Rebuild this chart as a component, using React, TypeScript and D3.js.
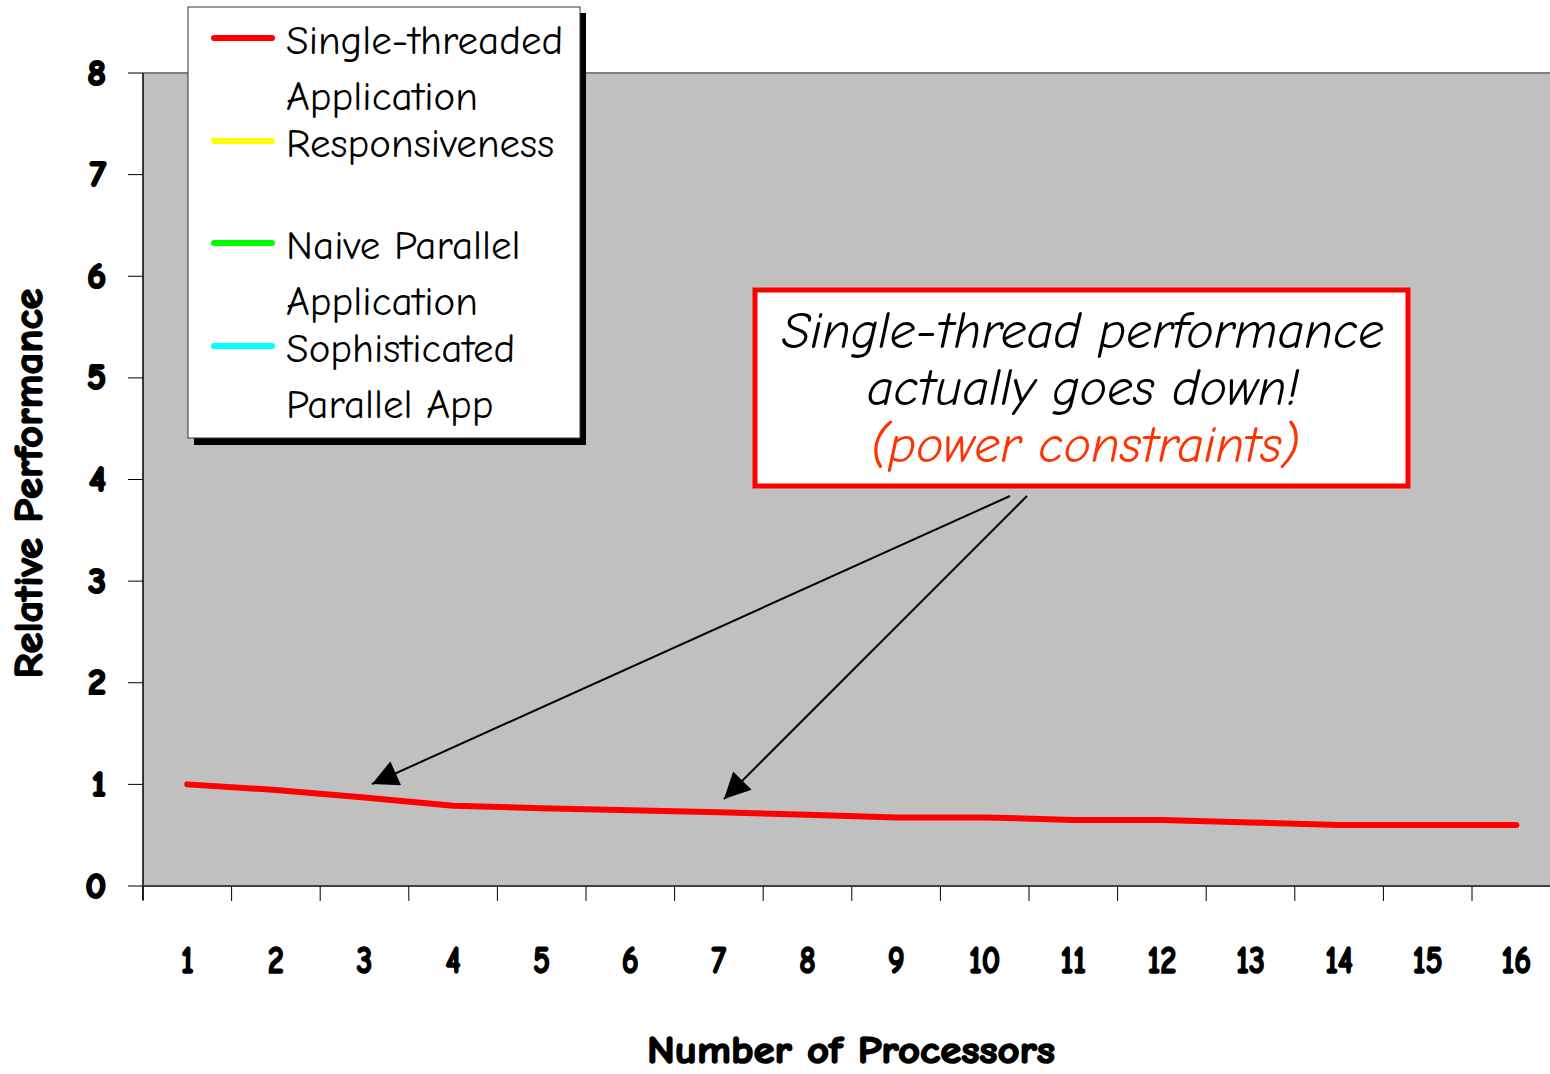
import { useMemo } from 'react'
import * as d3 from 'd3'

const processors = ['1', '2', '3', '4', '5', '6', '7', '8', '9', '10', '11', '12', '13', '14', '15', '16']
const singleThreaded = [1.0, 0.945, 0.87, 0.79, 0.765, 0.745, 0.725, 0.7, 0.675, 0.675, 0.65, 0.65, 0.625, 0.6, 0.6, 0.6]
const yTicks = [0, 1, 2, 3, 4, 5, 6, 7, 8]

const legendItems = [
  { lines: ['Single-threaded', 'Application'], color: '#ff0000' },
  { lines: ['Responsiveness'], color: '#ffff00' },
  { lines: ['Naive Parallel', 'Application'], color: '#00ff00' },
  { lines: ['Sophisticated', 'Parallel App'], color: '#00ffff' },
]

const calloutLines = ['Single-thread performance', 'actually goes down!']
const calloutNote = '(power constraints)'

const font = "'Comic Sans MS', 'Comic Neue', 'Open Sans', sans-serif"

const App = () => {
  const width = 1550
  const height = 1074
  const left = 143
  const top = 73
  const bottom = 886
  const band = 88.6

  const x = useMemo(
    () => d3.scaleBand().domain(processors).range([left, left + band * processors.length]).padding(0),
    []
  )
  const y = useMemo(() => d3.scaleLinear().domain([0, 8]).range([bottom, top]), [])

  const line = d3
    .line<number>()
    .x((_, i) => (x(processors[i]) ?? 0) + x.bandwidth() / 2)
    .y((d) => y(d))

  const xEdges = [...processors.map((p) => x(p) ?? 0), x.range()[1]]

  // arrows from the callout down to the line
  const arrows = [
    { from: [1010, 496], to: [372, 784] },
    { from: [1027, 496], to: [724, 799] },
  ]

  const legendRows = [40, 143, 245, 348]

  // fake bold, the comic font has no bold face here
  const heavy = { stroke: '#000', strokeWidth: 1.6, paintOrder: 'stroke' as const }

  return (
    <svg width={width} height={height} style={{ position: 'absolute', left: 0, top: 0, background: '#fff' }}>
      <defs>
        <marker id='head2' viewBox='0 0 10 10' refX='10' refY='5' markerWidth='30' markerHeight='26' orient='auto' markerUnits='userSpaceOnUse'>
          <path d='M0,0 L10,5 L0,10 z' fill='#000' />
        </marker>
      </defs>

      {/* plot area */}
      <rect x={left} y={top} width={width - left + 20} height={bottom - top} fill='#c0c0c0' />
      <line x1={left} x2={width} y1={top} y2={top} stroke='#808080' strokeWidth={2} />
      <line x1={left} x2={left} y1={top} y2={bottom + 14} stroke='#000' strokeWidth={1.5} />
      <line x1={left} x2={width} y1={bottom} y2={bottom} stroke='#404040' strokeWidth={2} />

      {/* y axis */}
      {yTicks.map((t) => (
        <g key={t}>
          <line x1={left - 15} x2={left} y1={y(t)} y2={y(t)} stroke='#000' strokeWidth={1} />
          <text
            x={106}
            y={y(t)}
            textAnchor='end'
            dominantBaseline='central'
            fontFamily={font}
            fontWeight='bold'
            fontSize={36}
            {...heavy}
            strokeWidth={2.2}
          >
            {t}
          </text>
        </g>
      ))}
      <text
        transform={`translate(28, ${(top + bottom) / 2 + 4}) rotate(-90)`}
        textAnchor='middle'
        dominantBaseline='central'
        fontFamily={font}
        fontWeight='bold'
        fontSize={41}
        {...heavy}
        textLength={390}
        lengthAdjust='spacingAndGlyphs'
      >
        Relative Performance
      </text>

      {/* x axis */}
      {xEdges.map((e, i) => (
        <line key={i} x1={e} x2={e} y1={bottom} y2={bottom + 15} stroke='#000' strokeWidth={1} />
      ))}
      {processors.map((p) => (
        <text
          key={p}
          x={(x(p) ?? 0) + x.bandwidth() / 2}
          y={961}
          textAnchor='middle'
          dominantBaseline='central'
          fontFamily={font}
          fontWeight='bold'
          fontSize={38}
          {...heavy}
          transform={`translate(${(x(p) ?? 0) + x.bandwidth() / 2}, 0) scale(0.85, 1) translate(${-((x(p) ?? 0) + x.bandwidth() / 2)}, 0)`}
        >
          {p}
        </text>
      ))}
      <text
        x={851}
        y={1050}
        textAnchor='middle'
        dominantBaseline='central'
        fontFamily={font}
        fontWeight='bold'
        fontSize={39}
        {...heavy}
        textLength={408}
        lengthAdjust='spacingAndGlyphs'
      >
        Number of Processors
      </text>

      {/* data */}
      <path d={line(singleThreaded) ?? ''} fill='none' stroke='#ff0000' strokeWidth={6} strokeLinecap='round' strokeLinejoin='round' />

      {/* legend */}
      <rect x={194} y={13} width={392} height={432} fill='#000' />
      <rect x={188} y={7} width={392} height={431} fill='#fff' stroke='#333' strokeWidth={1} />
      {legendItems.map((item, i) => (
        <g key={i}>
          <line x1={214} x2={272} y1={legendRows[i] - 2} y2={legendRows[i] - 2} stroke={item.color} strokeWidth={6} strokeLinecap='round' />
          {item.lines.map((l, j) => (
            <text
              key={j}
              x={286}
              y={legendRows[i] + j * 56}
              dominantBaseline='central'
              fontFamily={font}
              fontSize={41}
            >
              {l}
            </text>
          ))}
        </g>
      ))}

      {/* callout */}
      <rect x={755} y={290} width={653} height={196} fill='#fff' stroke='#ff0000' strokeWidth={5} />
      {calloutLines.map((l, i) => (
        <text
          key={i}
          x={1083}
          y={331 + i * 57}
          textAnchor='middle'
          dominantBaseline='central'
          fontFamily={font}
          fontStyle='italic'
          fontSize={52}
        >
          {l}
        </text>
      ))}
      <text
        x={1085}
        y={445}
        textAnchor='middle'
        dominantBaseline='central'
        fontFamily={font}
        fontStyle='italic'
        fontSize={52}
        fill='#ff3300'
      >
        {calloutNote}
      </text>

      {arrows.map((a, i) => (
        <line
          key={i}
          x1={a.from[0]}
          y1={a.from[1]}
          x2={a.to[0]}
          y2={a.to[1]}
          stroke='#000'
          strokeWidth={2}
          markerEnd='url(#head2)'
        />
      ))}
    </svg>
  )
}

export default App
